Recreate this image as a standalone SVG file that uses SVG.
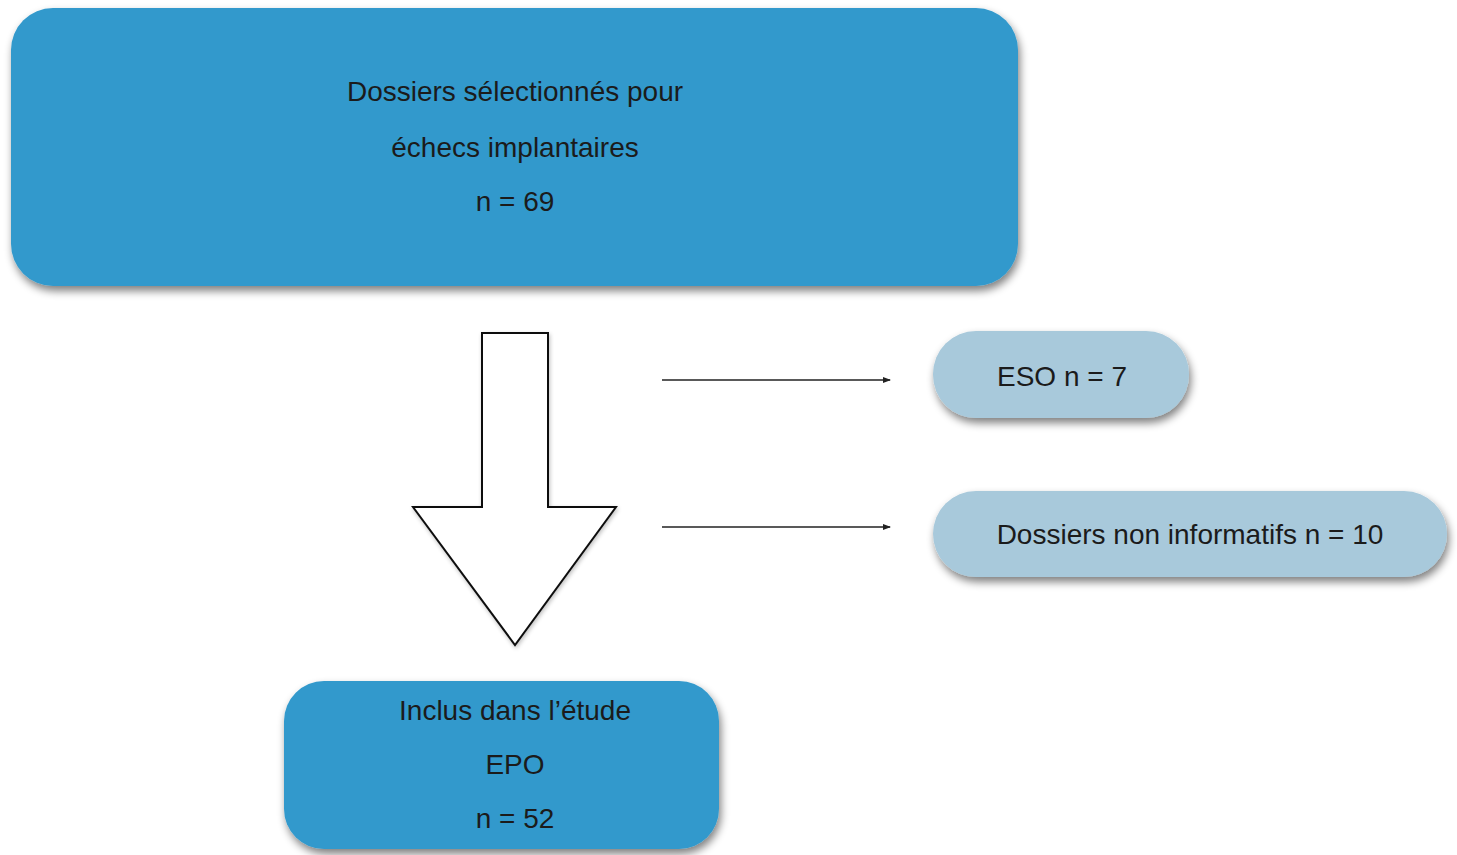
<svg xmlns="http://www.w3.org/2000/svg" width="1457" height="855" viewBox="0 0 1457 855">
<style>
.t{font-family:"Liberation Sans",Arial,sans-serif;font-size:28px;fill:#1b1b1b;text-anchor:middle}
.dark{fill:#3299cc}
.light{fill:#a8c9db}
.conn{stroke:#222;stroke-width:1.3;fill:none}
</style>
<defs>
<filter id="sh" x="-10%" y="-10%" width="125%" height="135%">
<feGaussianBlur in="SourceAlpha" stdDeviation="4"/>
<feOffset dx="2" dy="5"/>
<feComponentTransfer><feFuncA type="linear" slope="0.5"/></feComponentTransfer>
<feMerge><feMergeNode/><feMergeNode in="SourceGraphic"/></feMerge>
</filter>
<filter id="sh2" x="-10%" y="-10%" width="125%" height="125%">
<feGaussianBlur in="SourceAlpha" stdDeviation="2"/>
<feOffset dx="1" dy="2"/>
<feComponentTransfer><feFuncA type="linear" slope="0.25"/></feComponentTransfer>
<feMerge><feMergeNode/><feMergeNode in="SourceGraphic"/></feMerge>
</filter>
<marker id="ah" markerWidth="8" markerHeight="6" refX="7" refY="3" orient="auto" markerUnits="userSpaceOnUse">
<path d="M0,0 L8,3 L0,6 Z" fill="#222"/>
</marker>
</defs>
<rect width="1457" height="855" fill="#fff"/>
<g id="top">
<rect class="dark" x="11" y="8" width="1007" height="278" rx="42" filter="url(#sh)"/>
<text class="t" x="515" y="101">Dossiers sélectionnés pour</text>
<text class="t" x="515" y="157">échecs implantaires</text>
<text class="t" x="515" y="211">n = 69</text>
</g>
<g id="bigarrow">
<path d="M482,333 L548,333 L548,507 L616,507 L515,645 L413,507 L482,507 Z" fill="#fff" stroke="#111" stroke-width="2" stroke-linejoin="miter" filter="url(#sh2)"/>
</g>
<g id="connectors">
<line class="conn" x1="662" y1="380" x2="890" y2="380" marker-end="url(#ah)"/>
<line class="conn" x1="662" y1="527" x2="890" y2="527" marker-end="url(#ah)"/>
</g>
<g id="eso">
<rect class="light" x="933" y="331" width="256" height="87" rx="43" filter="url(#sh)"/>
<text class="t" x="1062" y="386">ESO n = 7</text>
</g>
<g id="noninfo">
<rect class="light" x="933" y="491" width="514" height="86" rx="43" filter="url(#sh)"/>
<text class="t" x="1190" y="544">Dossiers non informatifs n = 10</text>
</g>
<g id="bottom">
<rect class="dark" x="284" y="681" width="435" height="168" rx="40" filter="url(#sh)"/>
<text class="t" x="515" y="720">Inclus dans l’étude</text>
<text class="t" x="515" y="774">EPO</text>
<text class="t" x="515" y="828">n = 52</text>
</g>
</svg>
